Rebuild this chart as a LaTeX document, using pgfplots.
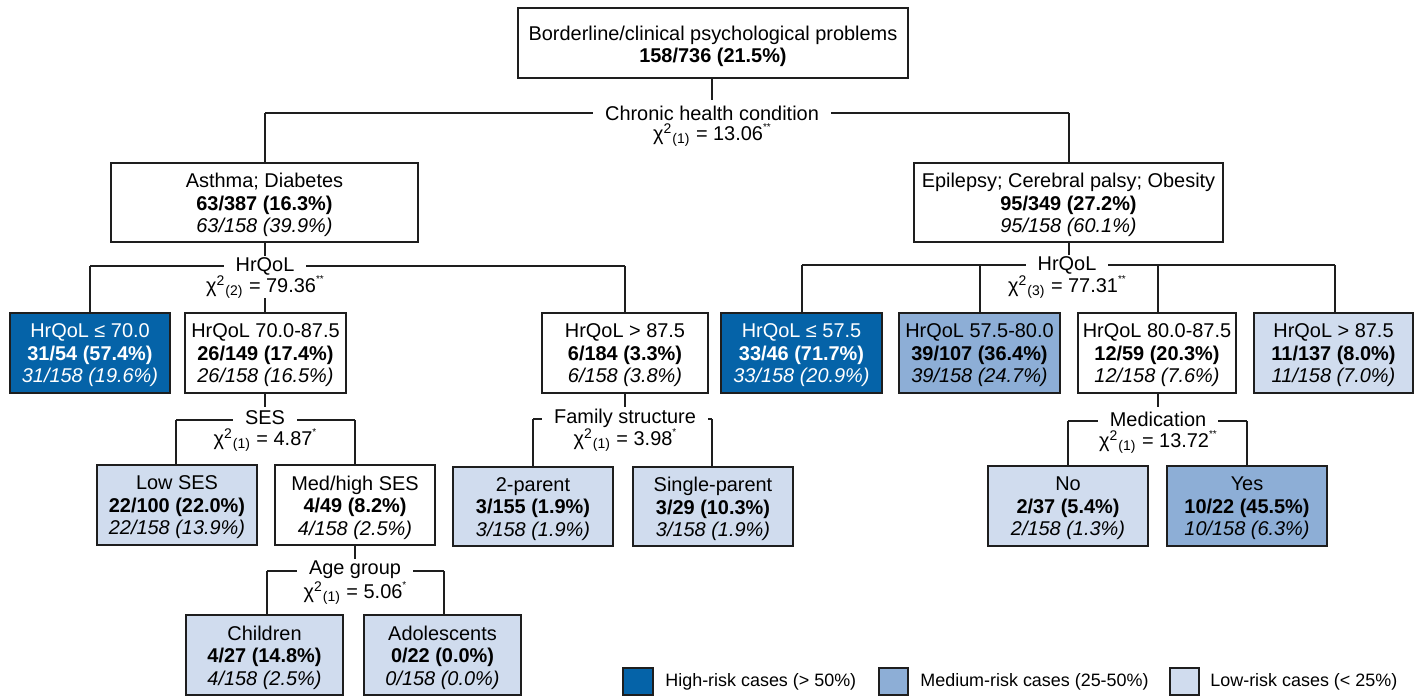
\documentclass[border=0pt]{standalone}
\usepackage{fontspec}
\setmainfont{Liberation Sans}
\usepackage{graphicx}
\usepackage{pgfplots}
\pgfplotsset{compat=1.18}
\definecolor{hi}{HTML}{0563A8}
\definecolor{med}{HTML}{8DAED6}
\definecolor{lo}{HTML}{D0DCEE}
\definecolor{ln}{HTML}{1E1E1E}
\newcommand{\boxfont}{\fontsize{10}{11.3}\selectfont}
\newcommand{\legfont}{\fontsize{9}{10}\selectfont}
% box: x1 y1 x2 y2 fill cx cy textcolor content
\newcommand{\bx}[9]{%
  \addplot[draw=ln, line width=1bp, fill=#5] coordinates {(#1,#2) (#3,#2) (#3,#4) (#1,#4)} -- cycle;
  \node[text=#8, align=center, font=\boxfont, inner sep=0pt, yshift=-1.2bp] at (axis cs:#6,#7) {#9};}
\newcommand{\seg}[4]{\addplot[ln, line width=0.8bp] coordinates {(#1,#2) (#3,#4)};}
\newcommand{\lab}[3]{\node[font=\boxfont, fill=white, inner xsep=6bp, inner ysep=0pt] at (axis cs:#1,#2) {#3};}
\newcommand{\chisq}[3]{χ\textsuperscript{2}\textsubscript{(#1)} = #2\raisebox{0.5em}{\fontsize{5}{5}\selectfont #3}}
\newcommand{\chl}[2]{\node[font=\boxfont, inner sep=0pt, yshift=-1bp] at (axis cs:#1,#2)}
\begin{document}
\begin{tikzpicture}
\begin{axis}[width=711bp, height=348bp, scale only axis,
  xmin=0, xmax=1422, ymin=0, ymax=696, y dir=reverse,
  hide axis, clip=false]
\addplot[draw=none] coordinates {(0,0) (1422,696)};
% ---------- connectors ----------
% root split
\seg{712}{78}{712}{100}
\seg{265}{113}{1069}{113}
\seg{265}{113}{265}{163}
\seg{1069}{113}{1069}{163}
\lab{712}{113}{Chronic health condition}
\chl{712}{133}{\chisq{1}{13.06}{**}};
% Asthma split
\seg{265}{242}{265}{256}
\seg{90}{266}{625}{266}
\seg{90}{266}{90}{313}
\seg{625}{266}{625}{313}
\seg{265}{298}{265}{313}
\lab{265}{266}{HrQoL}
\chl{265}{285}{\chisq{2}{79.36}{**}};
% Epilepsy split
\seg{1069}{243}{1069}{255}
\seg{802}{265}{1335}{265}
\seg{802}{265}{802}{313}
\seg{980}{265}{980}{313}
\seg{1158}{265}{1158}{313}
\seg{1335}{265}{1335}{313}
\lab{1067}{265}{HrQoL}
\chl{1067}{285}{\chisq{3}{77.31}{**}};
% SES split
\seg{265}{393}{265}{407}
\seg{176}{420}{355}{420}
\seg{176}{420}{176}{465}
\seg{355}{420}{355}{465}
\lab{265}{418}{SES}
\chl{265}{438}{\chisq{1}{4.87}{*}};
% Family structure split
\seg{625}{393}{625}{407}
\seg{533}{419}{712}{419}
\seg{533}{419}{533}{467}
\seg{712}{419}{712}{467}
\lab{625}{418}{Family structure}
\chl{625}{438}{\chisq{1}{3.98}{*}};
% Medication split
\seg{1158}{393}{1158}{407}
\seg{1068}{421}{1247}{421}
\seg{1068}{421}{1068}{466}
\seg{1247}{421}{1247}{466}
\lab{1158}{419}{Medication}
\chl{1158}{440}{\chisq{1}{13.72}{**}};
% Age group split
\seg{355}{545}{355}{559}
\seg{267}{571}{444}{571}
\seg{267}{571}{267}{615}
\seg{444}{571}{444}{615}
\lab{355}{570}{Age group}
\chl{355}{591}{\chisq{1}{5.06}{*}};
% ---------- boxes ----------
\bx{518}{8}{908}{78}{white}{713}{44}{black}{Borderline/clinical psychological problems\\ \textbf{158/736 (21.5\%)}}
\bx{111}{163}{418}{242}{white}{264.5}{202.5}{black}{Asthma; Diabetes\\ \textbf{63/387 (16.3\%)}\\ \textit{63/158 (39.9\%)}}
\bx{914}{163}{1223}{242}{white}{1068.5}{202.5}{black}{Epilepsy; Cerebral palsy; Obesity\\ \textbf{95/349 (27.2\%)}\\ \textit{95/158 (60.1\%)}}
\bx{10}{313}{170}{393}{hi}{90}{353}{white}{HrQoL ≤ 70.0\\ \textbf{31/54 (57.4\%)}\\ \textit{31/158 (19.6\%)}}
\bx{185}{313}{346}{393}{white}{265.5}{353}{black}{HrQoL 70.0-87.5\\ \textbf{26/149 (17.4\%)}\\ \textit{26/158 (16.5\%)}}
\bx{542}{313}{708}{393}{white}{625}{353}{black}{HrQoL > 87.5\\ \textbf{6/184 (3.3\%)}\\ \textit{6/158 (3.8\%)}}
\bx{721}{313}{882}{393}{hi}{801.5}{353}{white}{HrQoL ≤ 57.5\\ \textbf{33/46 (71.7\%)}\\ \textit{33/158 (20.9\%)}}
\bx{899}{313}{1060}{393}{med}{979.5}{353}{black}{HrQoL 57.5-80.0\\ \textbf{39/107 (36.4\%)}\\ \textit{39/158 (24.7\%)}}
\bx{1078}{313}{1236}{393}{white}{1157}{353}{black}{HrQoL 80.0-87.5\\ \textbf{12/59 (20.3\%)}\\ \textit{12/158 (7.6\%)}}
\bx{1254}{313}{1413}{393}{lo}{1333.5}{353}{black}{HrQoL > 87.5\\ \textbf{11/137 (8.0\%)}\\ \textit{11/158 (7.0\%)}}
\bx{97}{465}{257}{545}{lo}{177}{505}{black}{Low SES\\ \textbf{22/100 (22.0\%)}\\ \textit{22/158 (13.9\%)}}
\bx{275}{465}{435}{545}{white}{355}{505}{black}{Med/high SES\\ \textbf{4/49 (8.2\%)}\\ \textit{4/158 (2.5\%)}}
\bx{453}{467}{613}{546}{lo}{533}{506.5}{black}{2-parent\\ \textbf{3/155 (1.9\%)}\\ \textit{3/158 (1.9\%)}}
\bx{633}{467}{793}{546}{lo}{713}{506.5}{black}{Single-parent\\ \textbf{3/29 (10.3\%)}\\ \textit{3/158 (1.9\%)}}
\bx{988}{466}{1148}{546}{lo}{1068}{506}{black}{No\\ \textbf{2/37 (5.4\%)}\\ \textit{2/158 (1.3\%)}}
\bx{1167}{466}{1327}{546}{med}{1247}{506}{black}{Yes\\ \textbf{10/22 (45.5\%)}\\ \textit{10/158 (6.3\%)}}
\bx{186}{615}{343}{695}{lo}{264.5}{655}{black}{Children\\ \textbf{4/27 (14.8\%)}\\ \textit{4/158 (2.5\%)}}
\bx{364}{615}{521}{695}{lo}{442.5}{655}{black}{Adolescents\\ \textbf{0/22 (0.0\%)}\\ \textit{0/158 (0.0\%)}}
% ---------- legend ----------
\addplot[draw=ln, line width=1bp, fill=hi] coordinates {(623,668) (653,668) (653,695) (623,695)} -- cycle;
\addplot[draw=ln, line width=1bp, fill=med] coordinates {(879,668) (908,668) (908,695) (879,695)} -- cycle;
\addplot[draw=ln, line width=1bp, fill=lo] coordinates {(1170,668) (1199,668) (1199,695) (1170,695)} -- cycle;
\node[font=\legfont, anchor=west, inner sep=0pt] at (axis cs:665,682) {High-risk cases (> 50\%)};
\node[font=\legfont, anchor=west, inner sep=0pt] at (axis cs:920,682) {Medium-risk cases (25-50\%)};
\node[font=\legfont, anchor=west, inner sep=0pt] at (axis cs:1210,682) {Low-risk cases (< 25\%)};
\end{axis}
\end{tikzpicture}
\end{document}
